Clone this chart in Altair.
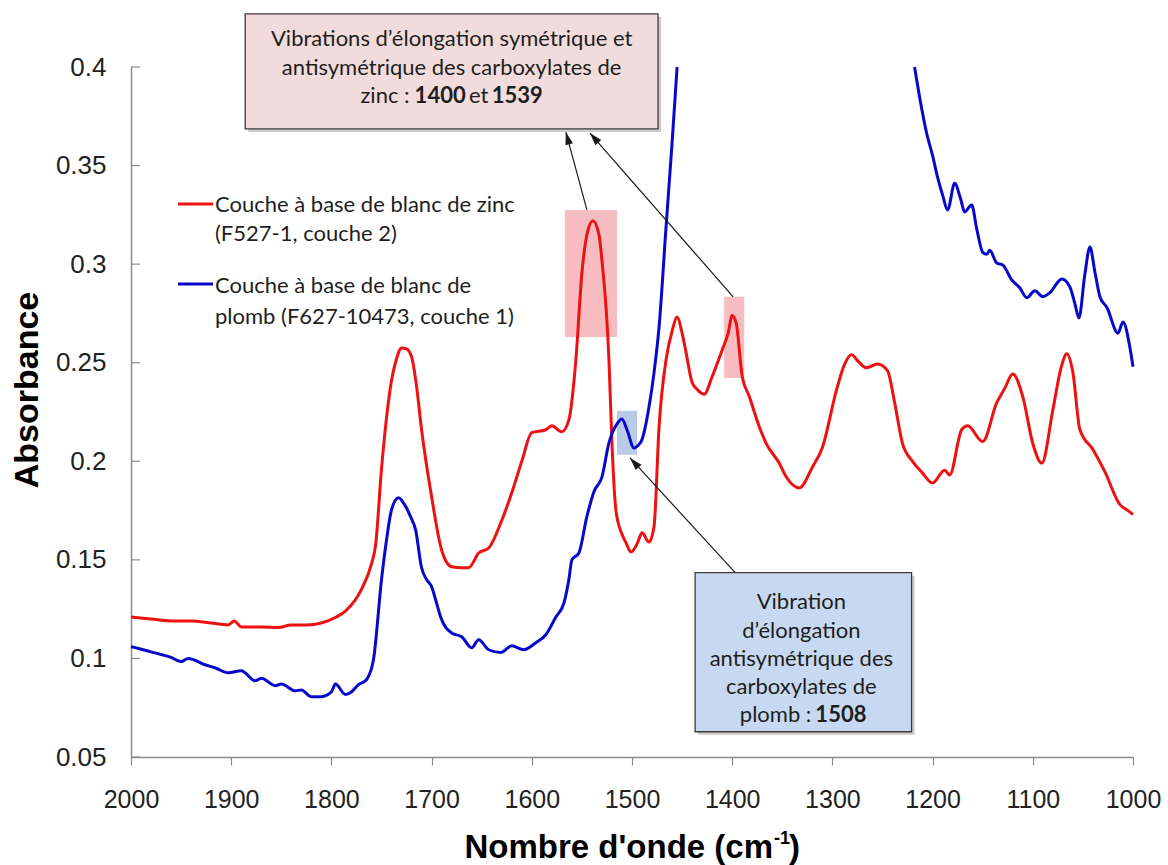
import math
import altair as alt
import pandas as pd

# ---------------------------------------------------------------------------
# FTIR spectra (wavenumber in cm-1, absorbance)
# ---------------------------------------------------------------------------
zinc_nu = [2000, 1980, 1960, 1940, 1920, 1903, 1897, 1890, 1870, 1853, 1840, 1825,
           1810, 1795, 1786, 1770, 1760, 1756, 1750, 1745, 1740, 1735, 1730, 1725,
           1720, 1715, 1710, 1700, 1690, 1680, 1670, 1663, 1653, 1643, 1630, 1620,
           1610, 1600, 1586, 1580, 1570, 1563, 1556, 1550, 1545, 1539, 1533, 1530,
           1523, 1520, 1516, 1510, 1506, 1501, 1495, 1490, 1483, 1478, 1473, 1466,
           1460, 1455, 1450, 1446, 1440, 1434, 1428, 1420, 1410, 1404, 1400, 1396,
           1390, 1383, 1373, 1366, 1353, 1346, 1333, 1320, 1310, 1296, 1288, 1281,
           1274, 1266, 1255, 1245, 1238, 1230, 1220, 1210, 1200, 1188, 1183, 1171,
           1165, 1150, 1136, 1128, 1120, 1110, 1100, 1091, 1080, 1072, 1066, 1060,
           1053, 1040, 1028, 1013, 1005, 1000]
zinc_abs = [0.121, 0.120, 0.119, 0.119, 0.118, 0.117, 0.119, 0.116, 0.116, 0.1157, 0.117, 0.117,
            0.118, 0.121, 0.124, 0.135, 0.148, 0.157, 0.196, 0.222, 0.241, 0.252, 0.2575, 0.257,
            0.253, 0.238, 0.216, 0.182, 0.155, 0.1465, 0.146, 0.146, 0.1535, 0.156, 0.170, 0.184,
            0.200, 0.2145, 0.216, 0.218, 0.215, 0.221, 0.2515, 0.2955, 0.315, 0.322, 0.315, 0.302,
            0.2515, 0.209, 0.175, 0.163, 0.1587, 0.154, 0.158, 0.1637, 0.159, 0.167, 0.2175, 0.2515,
            0.266, 0.273, 0.265, 0.255, 0.240, 0.236, 0.234, 0.243, 0.2565, 0.265, 0.274, 0.270,
            0.243, 0.233, 0.2175, 0.209, 0.199, 0.192, 0.1865, 0.197, 0.207, 0.236, 0.249, 0.254,
            0.2505, 0.2474, 0.2494, 0.246, 0.230, 0.209, 0.200, 0.194, 0.189, 0.1955, 0.193, 0.216,
            0.218, 0.210, 0.2297, 0.237, 0.2443, 0.2328, 0.209, 0.199, 0.226, 0.247, 0.2545, 0.245,
            0.216, 0.206, 0.1946, 0.178, 0.175, 0.173]

# Lead white layer: the band between ~1455 and ~1218 cm-1 runs off scale
lead_nu_a = [2000, 1985, 1970, 1960, 1950, 1943, 1926, 1915, 1903, 1890, 1876, 1870,
             1856, 1850, 1836, 1830, 1820, 1810, 1800, 1796, 1786, 1780, 1773, 1765,
             1758, 1750, 1745, 1740, 1733, 1727, 1721, 1716, 1710, 1705, 1700, 1695,
             1691, 1680, 1670, 1660, 1653, 1643, 1631, 1620, 1608, 1596, 1586, 1576,
             1568, 1563, 1560, 1553, 1545, 1538, 1530, 1523, 1515, 1510, 1505, 1498,
             1494, 1490, 1483, 1478, 1473, 1466, 1460, 1455]
lead_abs_a = [0.106, 0.104, 0.102, 0.1005, 0.0984, 0.100, 0.0968, 0.095, 0.0927, 0.0938, 0.0887, 0.090,
              0.0862, 0.087, 0.0836, 0.084, 0.0806, 0.0806, 0.083, 0.087, 0.0817, 0.083, 0.0867, 0.0892,
              0.0994, 0.140, 0.160, 0.1754, 0.1815, 0.178, 0.1719, 0.1653, 0.146, 0.140, 0.1364, 0.128,
              0.121, 0.1129, 0.111, 0.1054, 0.1095, 0.1044, 0.103, 0.1064, 0.1044, 0.108, 0.112, 0.121,
              0.128, 0.140, 0.150, 0.1535, 0.172, 0.1846, 0.192, 0.2093, 0.219, 0.2215, 0.216, 0.2068,
              0.208, 0.211, 0.2276, 0.245, 0.268, 0.319, 0.3615, 0.400]
lead_nu_b = [1218, 1212, 1206, 1200, 1195, 1190, 1185, 1178, 1172, 1168, 1161, 1156,
             1150, 1146, 1143, 1136, 1130, 1121, 1113, 1106, 1098, 1090, 1083, 1071,
             1063, 1058, 1054, 1048, 1043, 1038, 1033, 1026, 1015, 1010, 1003, 1000]
lead_abs_b = [0.400, 0.382, 0.3665, 0.355, 0.344, 0.335, 0.3275, 0.341, 0.333, 0.3265, 0.330, 0.318,
              0.306, 0.305, 0.307, 0.3006, 0.2996, 0.292, 0.288, 0.283, 0.2865, 0.2835, 0.2855, 0.2925,
              0.2885, 0.280, 0.2727, 0.295, 0.3087, 0.296, 0.2835, 0.278, 0.265, 0.2707, 0.2575, 0.248]

series_names = ["zinc", "plomb"]
series_colors = ["#ee1111", "#0808cc"]

x_ticks = [2000, 1900, 1800, 1700, 1600, 1500, 1400, 1300, 1200, 1100, 1000]
y_ticks = [0.05, 0.1, 0.15, 0.2, 0.25, 0.3, 0.35, 0.4]

# Band highlights: (nu_left, nu_right, A_low, A_high, colour)
highlight_boxes = [
    (1567, 1515, 0.263, 0.3275, "#f7bcc0"),
    (1408, 1388, 0.2423, 0.2834, "#f7bcc0"),
    (1515, 1495, 0.2033, 0.2256, "#b9cbe6"),
]
# Annotation boxes: (nu_left, nu_right, A_low, A_high, fill)
note_boxes = [
    (1886, 1474, 0.3686, 0.4269, "#f2dcdb"),
    (1437, 1221, 0.0628, 0.1435, "#c6d9f1"),
]
# Arrows: (nu_start, A_start, nu_tip, A_tip)
arrows = [
    (1545, 0.3275, 1566, 0.367),
    (1399, 0.2834, 1542, 0.3665),
    (1397, 0.1435, 1502, 0.2017),
]

FONT = "Liberation Sans"
NOTE_FONT = "Lato"
NOTE_SIZE = 22

W, H = 1002, 690
xscale = alt.Scale(domain=[1000, 2000], reverse=True, nice=False, zero=False)
yscale = alt.Scale(domain=[0.05, 0.4], nice=False, zero=False)

x_axis = alt.Axis(values=x_ticks, format="d", tickSize=8, labelPadding=34,
                  labelBaseline="middle", labelFlush=False, grid=False, labelFont=FONT,
                  labelFontSize=25, labelColor="#222222", domainColor="#8a8a8a",
                  tickColor="#8a8a8a", domainWidth=1.5, tickWidth=1.2, title=None)
y_axis = alt.Axis(values=y_ticks, format="~g", tickSize=0, labelPadding=25,
                  labelFlush=False, grid=False, labelFont=FONT, labelFontSize=26,
                  labelColor="#222222", domainColor="#8a8a8a", domainWidth=1.5,
                  title=None)


def X(field):
    return alt.X(field, scale=xscale, axis=x_axis, title=None)


def Y(field):
    return alt.Y(field, scale=yscale, axis=y_axis, title=None)


# ---------------------------------------------------------------------------
rows = []
for name, nus, vals, seg in [("zinc", zinc_nu, zinc_abs, "z"),
                             ("plomb", lead_nu_a, lead_abs_a, "pa"),
                             ("plomb", lead_nu_b, lead_abs_b, "pb")]:
    for i, (n, a) in enumerate(zip(nus, vals)):
        rows.append({"nu": n, "A": a, "serie": name, "seg": seg, "i": i})
spectra = pd.DataFrame(rows)

curves = alt.Chart(spectra).mark_line(strokeWidth=3, interpolate="monotone").encode(
    x=X("nu:Q"),
    y=Y("A:Q"),
    color=alt.Color("serie:N", scale=alt.Scale(domain=series_names, range=series_colors),
                    legend=None),
    detail="seg:N",
    order="i:Q",
)

# inward y ticks
ytick_rules = alt.Chart(pd.DataFrame({"t": y_ticks})).mark_rule(
    color="#8a8a8a", strokeWidth=1.2).encode(
    y=Y("t:Q"), x=alt.value(0), x2=alt.value(9))

hl = pd.DataFrame(highlight_boxes, columns=["x1", "x2", "y1", "y2", "c"])
highlights = alt.Chart(hl).mark_rect().encode(
    x=X("x1:Q"), x2="x2:Q", y=Y("y1:Q"), y2="y2:Q",
    fill=alt.Fill("c:N", scale=None))

nb = pd.DataFrame(note_boxes, columns=["x1", "x2", "y1", "y2", "c"])
shadows = alt.Chart(nb).mark_rect(xOffset=3, yOffset=3, x2Offset=3, y2Offset=3,
                                  color="#9a9a9a", opacity=0.5).encode(
    x=X("x1:Q"), x2="x2:Q", y=Y("y1:Q"), y2="y2:Q")
boxes = alt.Chart(nb).mark_rect(stroke="#3c3c3c", strokeWidth=1.3).encode(
    x=X("x1:Q"), x2="x2:Q", y=Y("y1:Q"), y2="y2:Q",
    fill=alt.Fill("c:N", scale=None))

# arrows with heads rotated along each shaft (pixel-space direction)
arr_rows = []
for (x0, y0, x1, y1) in arrows:
    dx = -(x1 - x0) * W / 1000.0
    dy = -(y1 - y0) * H / 0.35
    ang = math.degrees(math.atan2(dx, -dy)) % 360
    arr_rows.append({"x0": x0, "y0": y0, "x1": x1, "y1": y1, "ang": ang})
arr = pd.DataFrame(arr_rows)
shafts = alt.Chart(arr).mark_rule(color="#1a1a1a", strokeWidth=1.2).encode(
    x=X("x0:Q"), x2="x1:Q", y=Y("y0:Q"), y2="y1:Q")
heads = alt.Chart(arr).mark_point(shape="M0,0L-0.55,1.8L0.55,1.8Z", filled=True,
                                  size=200, color="#1a1a1a", opacity=1).encode(
    x=X("x1:Q"), y=Y("y1:Q"),
    angle=alt.Angle("ang:Q", scale=None))


def data_text(items, align="center", bold=False):
    df = pd.DataFrame(items, columns=["nu", "A", "txt"])
    return alt.Chart(df).mark_text(align=align, baseline="middle", font=NOTE_FONT,
                                   fontSize=NOTE_SIZE, color="#1e1e1e",
                                   fontWeight="bold" if bold else "normal").encode(
        x=X("nu:Q"), y=Y("A:Q"), text="txt:N")


zinc_note = [
    (1680, 0.4142, "Vibrations d\u2019élongation symétrique et"),
    (1680, 0.3995, "antisymétrique des carboxylates de"),
]
zinc_note_plain_r = [(1722, 0.3853, "zinc :")]
zinc_note_bold_r = [(1666, 0.3853, "1400")]
zinc_note_bold_l = [(1640, 0.3853, "1539")]
zinc_note_plain_c = [(1653, 0.3853, "et")]

lead_note = [
    (1331, 0.1287, "Vibration"),
    (1331, 0.1140, "d\u2019élongation"),
    (1331, 0.0998, "antisymétrique des"),
    (1331, 0.0856, "carboxylates de"),
]
lead_note_plain_r = [(1321, 0.0714, "plomb :")]
lead_note_bold_l = [(1317, 0.0714, "1508")]

texts = [
    data_text(zinc_note + lead_note),
    data_text(zinc_note_plain_c),
    data_text(zinc_note_plain_r + lead_note_plain_r, align="right"),
    data_text(zinc_note_bold_r, align="right", bold=True),
    data_text(zinc_note_bold_l + lead_note_bold_l, align="left", bold=True),
]

# legend drawn in pixel space
one = pd.DataFrame({"k": [0]})
legend_layers = []
for (ly, col) in [(137, series_colors[0]), (217, series_colors[1])]:
    legend_layers.append(alt.Chart(one).mark_rule(color=col, strokeWidth=3).encode(
        x=alt.value(47), x2=alt.value(82), y=alt.value(ly)))
legend_lines = [
    (84, 138, "Couche à base de blanc de zinc"),
    (84, 167, "(F527-1, couche 2)"),
    (84, 219, "Couche à base de blanc de"),
    (84, 250, "plomb (F627-10473, couche 1)"),
]
for (lx, ly, t) in legend_lines:
    legend_layers.append(alt.Chart(one).mark_text(
        align="left", baseline="middle", font=NOTE_FONT, fontSize=NOTE_SIZE,
        color="#1e1e1e").encode(x=alt.value(lx), y=alt.value(ly), text=alt.value(t)))

# axis titles
title_layers = [
    alt.Chart(one).mark_text(align="center", baseline="middle", angle=270, font=FONT,
                             fontSize=34, fontWeight="bold", color="#000000").encode(
        x=alt.value(-103), y=alt.value(323), text=alt.value("Absorbance")),
    alt.Chart(one).mark_text(align="right", baseline="alphabetic", font=FONT,
                             fontSize=33, fontWeight="bold", color="#000000").encode(
        x=alt.value(642), y=alt.value(791), text=alt.value("Nombre d'onde (cm")),
    alt.Chart(one).mark_text(align="left", baseline="alphabetic", font=FONT,
                             fontSize=18, fontWeight="bold", color="#000000").encode(
        x=alt.value(643), y=alt.value(777), text=alt.value("-1")),
    alt.Chart(one).mark_text(align="left", baseline="alphabetic", font=FONT,
                             fontSize=33, fontWeight="bold", color="#000000").encode(
        x=alt.value(658), y=alt.value(791), text=alt.value(")")),
]

chart = alt.layer(
    highlights, curves, ytick_rules, shafts, heads, shadows, boxes,
    *texts, *legend_layers, *title_layers,
).properties(
    width=W, height=H,
    autosize=alt.AutoSizeParams(type="none"),
    padding={"left": 131, "top": 67, "right": 35, "bottom": 108},
).configure_view(stroke=None)

chart.save("out.html", embed_options={"renderer": "svg", "actions": False})
